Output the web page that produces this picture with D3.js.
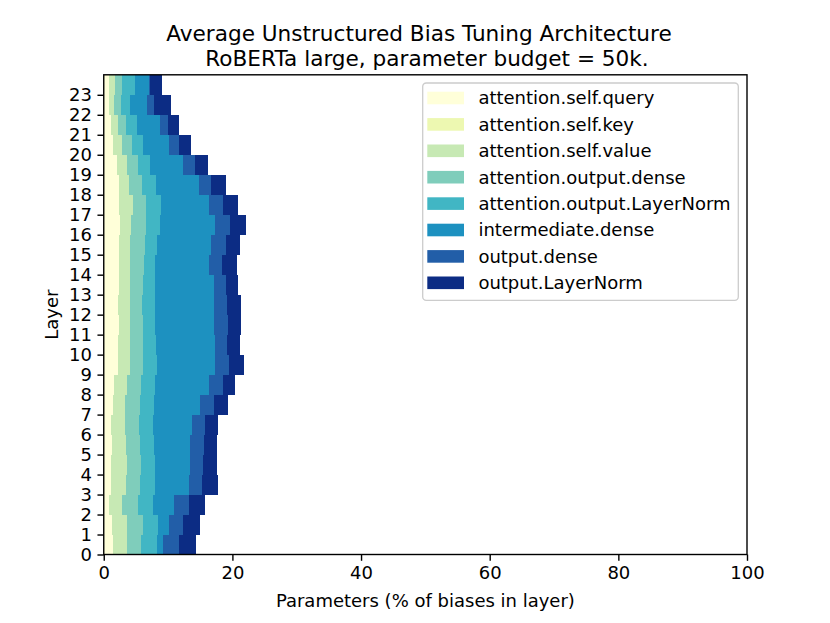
<!DOCTYPE html>
<html>
<head>
<meta charset="utf-8">
<script src="https://cdn.jsdelivr.net/npm/d3@7"></script>
<style>
  html, body { margin: 0; padding: 0; background: #fff; }
  svg { display: block; font-family: "DejaVu Sans", sans-serif; }
</style>
</head>
<body>
<svg id="chart" width="830" height="623"></svg>
<script>
// ---- data ----
const layers = d3.range(0, 24);
const seriesNames = [
  "attention.self.query",
  "attention.self.key",
  "attention.self.value",
  "attention.output.dense",
  "attention.output.LayerNorm",
  "intermediate.dense",
  "output.dense",
  "output.LayerNorm"
];
const seriesColors = ["#ffffd9", "#edf8b1", "#c7e9b4", "#7fcdbb", "#41b6c4", "#1d91c0", "#225ea8", "#0c2c84"];

// % of biases in layer, per module, layer 0..23
const query   = [1.38,1.27,0.75,1.17,1.17,1.27,1.17,1.38,1.53,2.16,2.16,2.31,2.16,2.31,2.31,2.31,2.47,2.31,2.31,2.05,1.43,1.17,0.75,0.75];
const key     = [0,0,0,0,0,0,0,0,0,0,0,0,0,0,0,0,0,0,0,0,0,0,0,0];
const value   = [2.23,2.34,2.08,2.33,2.44,2.18,2.07,1.97,2.08,1.97,1.86,1.82,1.86,1.82,1.71,1.82,1.81,2.18,1.66,1.56,1.40,0.98,0.89,1.04];
const attDense= [2.23,2.49,2.49,2.19,2.23,2.24,2.29,2.34,2.23,1.97,2.08,1.92,1.93,1.97,2.18,2.23,2.29,2.13,1.98,1.71,1.56,1.35,1.03,1.04];
const attLN   = [2.44,2.34,2.34,2.23,2.18,2.18,2.13,2.07,2.18,2.18,2.03,1.97,1.97,1.92,1.82,1.92,2.13,2.34,2.23,1.92,1.71,1.67,1.46,2.08];
const interm  = [0.94,1.66,3.32,5.30,5.35,5.61,6.07,7.17,8.31,9.09,9.24,9.08,9.18,9.08,8.31,8.47,8.56,7.37,6.59,5.09,4.10,3.53,2.59,2.07];
const outDense= [2.44,2.23,2.24,2.07,2.08,2.07,2.08,2.28,2.23,2.07,1.81,2.19,2.08,1.98,2.07,2.18,2.34,2.23,1.98,1.82,1.56,1.24,1.15,0.16];
const outLN   = [2.75,2.70,2.59,2.44,2.18,2.08,1.92,2.13,1.92,2.34,1.98,2.08,2.08,1.82,2.34,2.23,2.44,2.34,2.33,2.02,1.82,1.72,2.59,1.92];
const xTicks = [0, 20, 40, 60, 80, 100];

const seriesValues = [query, key, value, attDense, attLN, interm, outDense, outLN];
const table = layers.map((l, i) => {
  const row = { layer: l };
  seriesNames.forEach((n, s) => row[n] = seriesValues[s][i]);
  return row;
});

// ---- layout ----
const svg = d3.select("#chart");
const L = 103.75, R = 747, T = 74.8, B = 554.5;
const x = d3.scaleLinear().domain([0, 100]).range([L, R]);
const y = d3.scaleLinear().domain([0, 24]).range([B, T]);

const stack = d3.stack().keys(seriesNames)(table);

const g = svg.append("g");
stack.forEach((s, si) => {
  g.append("g").attr("fill", seriesColors[si])
    .selectAll("rect").data(s).join("rect")
    .attr("x", d => x(d[0]))
    .attr("width", d => Math.max(0, x(d[1]) - x(d[0])))
    .attr("y", d => y(d.data.layer + 1))
    .attr("height", d => y(d.data.layer) - y(d.data.layer + 1))
    .attr("shape-rendering", "crispEdges");
});

// axes
const tickLen = 6.3;
const xAxis = d3.axisBottom(x).tickValues(xTicks).tickSize(tickLen).tickPadding(5.5);
const yAxis = d3.axisLeft(y).tickValues(layers).tickSize(tickLen).tickPadding(5.5);

const gx = svg.append("g").attr("transform", `translate(0,${B})`).call(xAxis);
const gy = svg.append("g").attr("transform", `translate(${L},0)`).call(yAxis);
[gx, gy].forEach(a => {
  a.select(".domain").remove();
  a.selectAll(".tick line").attr("stroke", "#000").attr("stroke-width", 1.4);
  a.selectAll(".tick text").attr("fill", "#000").style("font-size", "18px")
    .style("font-family", "DejaVu Sans, sans-serif");
});

// frame
svg.append("rect").attr("x", L).attr("y", T).attr("width", R - L).attr("height", B - T)
  .attr("fill", "none").attr("stroke", "#000").attr("stroke-width", 1.4);

// labels
svg.append("text").attr("x", (L + R) / 2).attr("y", 607).attr("text-anchor", "middle")
  .style("font-size", "18px").text("Parameters (% of biases in layer)");
svg.append("text").attr("transform", `translate(58,${(T + B) / 2}) rotate(-90)`)
  .attr("text-anchor", "middle").style("font-size", "18px").text("Layer");

// title
svg.append("text").attr("x", 419).attr("y", 41).attr("text-anchor", "middle")
  .style("font-size", "21.6px").text("Average Unstructured Bias Tuning Architecture");
svg.append("text").attr("x", 427).attr("y", 65.5).attr("text-anchor", "middle")
  .style("font-size", "21.6px").text("RoBERTa large, parameter budget = 50k.");

// legend
const lg = svg.append("g");
lg.append("rect").attr("x", 422.7).attr("y", 83).attr("width", 315.6).attr("height", 217.3)
  .attr("rx", 3.6).attr("fill", "#fff").attr("fill-opacity", 0.8)
  .attr("stroke", "#cccccc").attr("stroke-width", 1.3);
const rows = lg.selectAll("g.row").data(seriesNames).join("g")
  .attr("transform", (d, i) => `translate(0,${98 + i * 26.4})`);
rows.append("rect").attr("x", 427.3).attr("y", -6.3).attr("width", 36.7).attr("height", 12.6)
  .attr("fill", (d, i) => seriesColors[i]);
rows.append("text").attr("x", 478.4).attr("y", 6.3).style("font-size", "18px").text(d => d);
</script>
</body>
</html>
